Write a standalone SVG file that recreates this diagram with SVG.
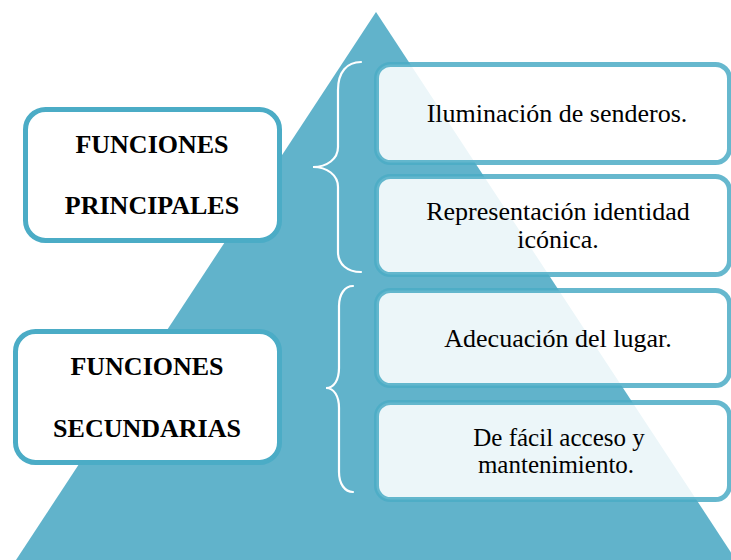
<svg xmlns="http://www.w3.org/2000/svg" width="731" height="560" viewBox="0 0 731 560">
<style>
.lbox{fill:#ffffff;stroke:#4BACC6;stroke-width:5}
.rbox{fill:#ffffff;fill-opacity:0.88;stroke:#4BACC6;stroke-opacity:0.85;stroke-width:5}
.brace{fill:none;stroke:#ffffff;stroke-width:2.2;stroke-linecap:round}
.bt{font-family:"Liberation Serif","Times New Roman",serif;font-size:26px;font-weight:bold;fill:#000;text-anchor:middle}
.rt{font-family:"Liberation Serif","Times New Roman",serif;font-size:26px;fill:#000;text-anchor:middle}
.rs{font-size:25px}
</style>
<polygon id="pyramid" points="376,12 16,560 736,560" fill="#61B3CB"/>
<g id="connectors">
<path class="brace" d="M361,62 C347,62 338,72 338,90 L338,147 C338,159 327,167 313,167 C327,167 338,175 338,187 L338,252 C338,264 347,272 361,272"/>
<path class="brace" d="M353,286 C345,286 339,294 339,306 L339,368 C339,380 334,388 326,388 C334,388 339,396 339,408 L339,472 C339,484 345,492 353,492"/>
</g>
<g id="principales">
<rect class="lbox" x="25.5" y="109.5" width="254" height="131" rx="20"/>
<text class="bt" x="152" y="153">FUNCIONES</text>
<text class="bt" x="152" y="214">PRINCIPALES</text>
</g>
<g id="secundarias">
<rect class="lbox" x="15.5" y="331.5" width="264" height="131" rx="20"/>
<text class="bt" x="147" y="375">FUNCIONES</text>
<text class="bt" x="147" y="437">SECUNDARIAS</text>
</g>
<g id="iluminacion">
<rect class="rbox" x="376.5" y="64.5" width="353" height="98" rx="14"/>
<text class="rt" x="557" y="122">Iluminación de senderos.</text>
</g>
<g id="representacion">
<rect class="rbox" x="376.5" y="176.5" width="353" height="98" rx="14"/>
<text class="rt" x="558" y="220">Representación identidad</text>
<text class="rt" x="558" y="248">icónica.</text>
</g>
<g id="adecuacion">
<rect class="rbox" x="376.5" y="290.5" width="353" height="95" rx="14"/>
<text class="rt" x="558" y="347">Adecuación del lugar.</text>
</g>
<g id="acceso">
<rect class="rbox" x="376.5" y="402.5" width="353" height="97" rx="14"/>
<text class="rt rs" x="559" y="446">De fácil acceso y</text>
<text class="rt rs" x="556" y="473">mantenimiento.</text>
</g>
</svg>
